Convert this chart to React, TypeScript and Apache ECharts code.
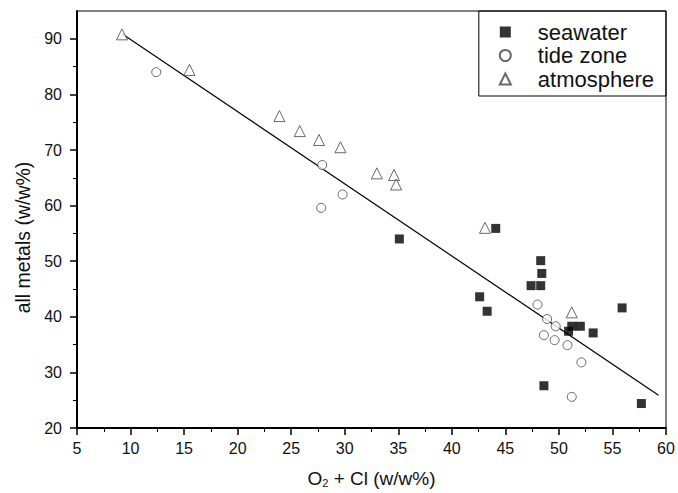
import React, { useEffect, useRef } from "react";
import * as echarts from "echarts";

const seawater: [number, number][] = [
  [35.1, 54.0], [44.1, 55.9], [48.3, 50.1], [48.4, 47.8], [47.4, 45.6], [48.3, 45.6],
  [42.6, 43.6], [43.3, 41.0], [55.9, 41.6], [51.2, 38.3], [52.0, 38.3], [50.9, 37.4],
  [53.2, 37.1], [48.6, 27.6], [57.7, 24.4],
];
const tideZone: [number, number][] = [
  [12.4, 84.0], [27.9, 67.3], [29.8, 62.0], [27.8, 59.6], [48.0, 42.2], [48.9, 39.6],
  [49.7, 38.3], [48.6, 36.7], [49.6, 35.8], [50.8, 34.9], [52.1, 31.8], [51.2, 25.6],
];
const atmosphere: [number, number][] = [
  [9.2, 90.8], [15.5, 84.4], [23.9, 76.1], [25.8, 73.4], [27.6, 71.8], [29.6, 70.5],
  [33.0, 65.8], [34.6, 65.5], [34.8, 63.8], [43.1, 56.0], [51.2, 40.8],
];
const fitLine: [number, number][] = [[9.2, 90.9], [59.3, 25.9]];
const yMajorTicks = [20, 30, 40, 50, 60, 70, 80, 90];
const yMinorTicks = [25, 35, 45, 55, 65, 75, 85];

const FONT = "'Liberation Sans', Arial, sans-serif";

export default function App() {
  const ref = useRef<HTMLDivElement>(null);
  useEffect(() => {
    const chart = echarts.init(ref.current!, null, { renderer: "svg" });
    const hollow = { color: "#fff", borderColor: "#444", borderWidth: 1 };
    chart.setOption({
      animation: false,
      backgroundColor: "#fff",
      textStyle: { fontFamily: FONT },
      grid: { left: 77, right: 12, top: 11, bottom: 64, show: true, borderColor: "#000", borderWidth: 1, backgroundColor: "transparent" },
      legend: {
        orient: "vertical",
        right: 12,
        top: 11,
        data: ["seawater", "tide zone", "atmosphere"],
        borderColor: "#000",
        borderWidth: 1,
        borderRadius: 0,
        padding: [10, 12, 6, 20],
        itemWidth: 11,
        itemHeight: 11,
        itemGap: 1.5,
        textStyle: { fontFamily: FONT, fontSize: 22, color: "#111", padding: [0, 0, 0, 22] },
      },
      xAxis: {
        type: "value",
        min: 5,
        max: 60,
        interval: 5,
        name: "O{sub|2} + Cl (w/w%)",
        nameLocation: "middle",
        nameGap: 40,
        nameTextStyle: {
          fontFamily: FONT,
          fontSize: 19,
          color: "#111",
          rich: { sub: { fontSize: 11, verticalAlign: "bottom", padding: [9, 0, 0, 0], fontFamily: FONT, color: "#111" } },
        },
        axisLine: { show: true, lineStyle: { color: "#000", width: 2 } },
        axisTick: { show: true, inside: false, length: 7, lineStyle: { color: "#000", width: 1.5 } },
        minorTick: { show: true, splitNumber: 2, length: 4, lineStyle: { color: "#000", width: 1 } },
        axisLabel: { fontFamily: FONT, fontSize: 16, color: "#111", margin: 12 },
        splitLine: { show: false },
      },
      yAxis: [
        {
          type: "value",
          min: 20,
          max: 95,
          name: "all metals (w/w%)",
          nameLocation: "middle",
          nameGap: 40,
          nameTextStyle: { fontFamily: FONT, fontSize: 19.5, color: "#111", padding: [0, 36, 0, 0] },
          axisLine: { show: true, lineStyle: { color: "#000", width: 2 } },
          axisTick: { show: true, inside: false, length: 7, customValues: yMajorTicks, lineStyle: { color: "#000", width: 1.5 } },
          axisLabel: { fontFamily: FONT, fontSize: 16, color: "#111", margin: 15, customValues: yMajorTicks },
          splitLine: { show: false },
        },
        {
          type: "value",
          min: 20,
          max: 95,
          position: "left",
          axisLine: { show: false },
          axisTick: { show: true, inside: false, length: 4, customValues: yMinorTicks, lineStyle: { color: "#000", width: 1 } },
          axisLabel: { show: false },
          splitLine: { show: false },
        },
      ],
      series: [
        {
          name: "fit",
          type: "line",
          data: fitLine,
          symbol: "none",
          lineStyle: { color: "#000", width: 1.2 },
          z: 1,
        },
        {
          name: "seawater",
          type: "scatter",
          data: seawater,
          symbol: "rect",
          symbolSize: 9,
          itemStyle: { color: "#000" },
          z: 3,
        },
        {
          name: "tide zone",
          type: "scatter",
          data: tideZone,
          symbol: "circle",
          symbolSize: 9,
          itemStyle: hollow,
          z: 2,
        },
        {
          name: "atmosphere",
          type: "scatter",
          data: atmosphere,
          symbol: "triangle",
          symbolSize: 11,
          itemStyle: hollow,
          z: 2,
        },
      ],
    });
    return () => chart.dispose();
  }, []);
  return <div ref={ref} style={{ width: 678, height: 493, position: "absolute", left: 0, top: 0 }} />;
}
